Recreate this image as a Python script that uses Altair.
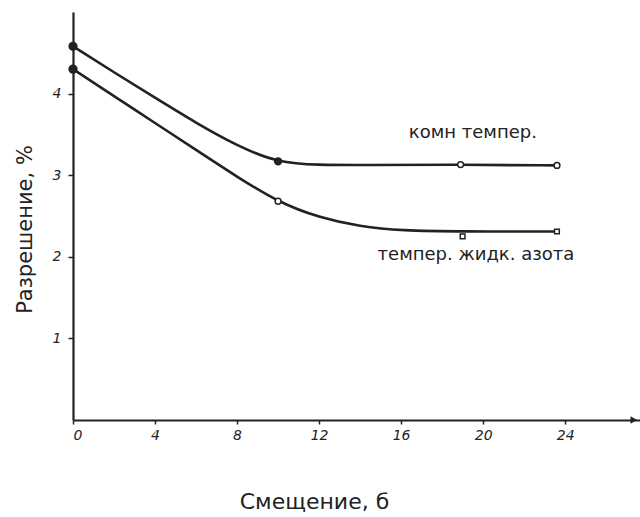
import altair as alt
import pandas as pd

# Smooth curves
curve_x_upper = [0, 2, 4, 6, 8, 10, 12, 14, 18.9, 23.6]
curve_y_upper = [4.58, 4.26, 3.95, 3.64, 3.36, 3.15, 3.125, 3.125, 3.13, 3.12]
curve_x_lower = [0, 2, 4, 6, 8, 10, 12, 14, 16, 19, 23.6]
curve_y_lower = [4.30, 3.97, 3.64, 3.31, 2.98, 2.67, 2.48, 2.37, 2.32, 2.31, 2.31]

# Measured points
pts_x_upper = [0, 10, 18.9, 23.6]
pts_y_upper = [4.58, 3.17, 3.13, 3.12]
kind_upper = ["start", "dot", "ring", "ring"]
pts_x_lower = [0, 10, 19.0, 23.6]
pts_y_lower = [4.30, 2.68, 2.25, 2.31]
kind_lower = ["start", "ring", "square", "square"]

series_names = ["комн темпер.", "темпер. жидк. азота"]
label_x = [19.5, 19.65]
label_y = [3.52, 2.02]

x_ticks = [0, 4, 8, 12, 16, 20, 24]
y_ticks = [1, 2, 3, 4]
x_max = 27.65
y_max = 5.0

INK = "#222222"
FONT = "DejaVu Sans"

curves = pd.concat([
    pd.DataFrame({"x": curve_x_upper, "y": curve_y_upper, "s": series_names[0]}),
    pd.DataFrame({"x": curve_x_lower, "y": curve_y_lower, "s": series_names[1]}),
])
points = pd.concat([
    pd.DataFrame({"x": pts_x_upper, "y": pts_y_upper, "kind": kind_upper}),
    pd.DataFrame({"x": pts_x_lower, "y": pts_y_lower, "kind": kind_lower}),
])
labels = pd.DataFrame({"x": label_x, "y": label_y, "t": series_names})
arrow = pd.DataFrame({"x": [x_max - 0.3], "y": [0]})

xs = alt.Scale(domain=[0, x_max], nice=False, zero=False)
ys = alt.Scale(domain=[0, y_max], nice=False, zero=False)

x_axis = alt.Axis(
    values=x_ticks, format="d", title="Смещение, б", grid=False,
    domainColor=INK, domainWidth=2.2, tickColor=INK, tickWidth=1.5, tickSize=4,
    labelFont=FONT, labelFontSize=14, labelFontStyle="italic", labelColor=INK,
    labelPadding=4,
    titleFont=FONT, titleFontSize=22, titleFontWeight="normal", titleColor=INK,
    titleX=241, titleY=88, titleBaseline="alphabetic",
)
y_axis = alt.Axis(
    values=y_ticks, format="d", title="Разрешение, %", grid=False,
    domainColor=INK, domainWidth=2.2, tickColor=INK, tickWidth=1.5, tickSize=5,
    labelFont=FONT, labelFontSize=14, labelFontStyle="italic", labelColor=INK,
    labelPadding=7,
    titleFont=FONT, titleFontSize=21, titleFontWeight="normal", titleColor=INK,
    titleX=-38, titleY=217, titleAngle=-90,
)

lines = alt.Chart(curves).mark_line(
    interpolate="basis", color=INK, strokeWidth=2.6
).encode(
    x=alt.X("x:Q", scale=xs, axis=x_axis),
    y=alt.Y("y:Q", scale=ys, axis=y_axis),
    detail="s:N",
)

marks = alt.Chart(points).mark_point(strokeWidth=1.5, opacity=1).encode(
    x=alt.X("x:Q", scale=xs),
    y=alt.Y("y:Q", scale=ys),
    shape=alt.Shape("kind:N", scale=alt.Scale(
        domain=["start", "dot", "ring", "square"],
        range=["circle", "circle", "circle", "square"]), legend=None),
    fill=alt.Fill("kind:N", scale=alt.Scale(
        domain=["start", "dot", "ring", "square"],
        range=[INK, INK, "white", "white"]), legend=None),
    size=alt.Size("kind:N", scale=alt.Scale(
        domain=["start", "dot", "ring", "square"],
        range=[60, 22, 28, 22]), legend=None),
    color=alt.value(INK),
)

texts = alt.Chart(labels).mark_text(
    font=FONT, fontSize=18, color=INK, align="center", baseline="middle"
).encode(
    x=alt.X("x:Q", scale=xs),
    y=alt.Y("y:Q", scale=ys),
    text="t:N",
)

arrow_mark = alt.Chart(arrow).mark_point(
    shape="triangle-right", filled=True, color=INK, size=60, opacity=1
).encode(
    x=alt.X("x:Q", scale=xs),
    y=alt.Y("y:Q", scale=ys),
)

chart = alt.layer(lines, marks, texts, arrow_mark).properties(
    width=567, height=408,
    autosize=alt.AutoSizeParams(type="none"),
    padding={"left": 73, "top": 12, "right": 0, "bottom": 97},
    background="white",
).configure_view(stroke=None)

chart.save("out.html", embed_options={"renderer": "svg", "actions": False})
